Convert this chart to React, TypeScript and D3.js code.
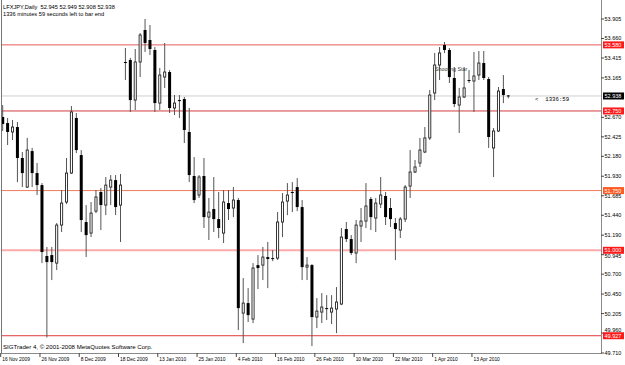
import React from "react";
import * as d3 from "d3";

const W = 625;
const H = 365;

// Daily OHLC bars (LFXJPY), oldest first
const opens = [52.674,52.598,52.486,52.548,52.159,51.794,52.246,51.970,51.819,50.928,50.940,50.839,51.317,51.606,51.970,52.662,52.196,51.355,51.216,51.492,51.732,51.568,51.794,51.882,51.568,53.365,53.390,52.887,53.365,53.767,53.641,53.516,52.849,53.176,53.239,52.787,52.887,52.900,52.486,51.933,51.694,51.933,51.417,51.518,51.392,51.216,51.593,51.531,51.631,50.211,50.337,50.136,50.814,50.814,50.915,50.902,50.902,51.355,51.618,51.732,51.794,51.543,50.789,50.814,50.161,50.224,50.274,50.224,50.262,50.325,51.267,51.141,50.966,51.305,51.367,51.644,51.405,51.581,51.682,51.531,51.342,51.254,51.392,51.807,51.983,52.096,52.234,52.411,52.975,53.327,53.579,53.516,53.164,52.824,52.925,53.139,53.126,53.201,53.352,53.151,52.285,52.498,53.025,52.945];
const highs = [52.824,52.662,52.636,52.611,52.234,52.411,52.285,52.096,51.844,51.041,51.041,51.342,51.757,52.159,52.812,52.724,52.259,51.568,51.606,51.757,51.782,51.920,51.945,51.945,51.958,53.541,53.416,53.528,53.729,53.905,53.830,53.553,53.290,53.603,53.264,52.950,52.950,52.925,52.787,52.171,51.945,52.159,51.657,51.920,51.732,51.757,51.757,51.794,51.657,50.651,50.525,50.839,50.940,51.041,51.104,51.003,51.480,51.719,51.844,51.857,51.907,51.631,50.915,50.827,50.400,50.462,50.437,50.437,50.538,51.280,51.355,51.191,51.380,51.531,51.844,51.669,51.657,51.920,51.732,51.657,51.405,51.417,51.819,52.259,52.134,52.411,52.548,53.013,53.478,53.553,53.616,53.541,53.302,53.039,53.302,53.264,53.491,53.503,53.503,53.176,52.536,53.051,53.201,52.949];
const lows = [52.498,52.322,52.385,51.857,51.794,51.782,51.794,51.694,50.839,49.905,50.626,50.752,51.229,51.581,51.958,52.221,51.229,50.915,51.166,51.467,51.254,51.442,51.568,51.442,51.104,53.139,52.737,52.762,53.176,53.491,53.453,52.737,52.762,53.039,52.724,52.699,52.662,52.347,51.857,51.593,51.657,51.280,51.129,51.229,51.154,51.091,51.380,51.417,49.998,49.834,50.099,50.086,50.513,50.626,50.525,50.864,50.877,51.166,51.442,51.480,51.492,50.626,50.626,49.797,50.023,50.086,50.124,50.073,49.960,50.312,51.104,50.940,50.839,51.104,51.280,51.254,51.229,51.531,51.317,51.292,50.877,51.154,51.355,51.657,51.970,52.046,52.221,52.385,52.887,53.139,53.478,53.101,52.799,52.473,52.912,53.101,52.737,53.139,53.139,52.285,51.920,52.486,52.849,52.908];
const closes = [52.586,52.486,52.548,52.159,51.970,52.259,51.970,51.819,50.978,50.852,50.852,51.317,51.593,51.970,52.737,52.259,51.380,51.191,51.467,51.669,51.568,51.819,51.882,51.543,51.819,53.352,52.887,53.365,53.704,53.603,53.528,52.849,53.201,53.239,52.787,52.849,52.874,52.511,51.945,51.631,51.920,51.417,51.480,51.392,51.280,51.606,51.518,51.631,50.274,50.337,50.186,50.777,50.777,50.915,50.890,50.900,51.355,51.606,51.694,51.730,51.543,50.789,50.814,50.161,50.236,50.287,50.272,50.274,50.350,51.166,51.141,50.966,51.317,51.367,51.556,51.417,51.593,51.694,51.417,51.392,51.267,51.392,51.794,51.983,52.046,52.259,52.411,52.950,53.327,53.478,53.516,53.176,52.837,52.925,53.039,53.126,53.189,53.352,53.164,52.423,52.498,53.000,52.950,52.938];

// visible price-axis tick labels
const priceTicks = [53.905,53.660,53.415,53.165,52.670,52.425,52.180,51.930,51.685,51.440,51.190,50.945,50.700,50.450,50.205,49.960,49.710];
const dateLabels = ["16 Nov 2009","26 Nov 2009","8 Dec 2009","18 Dec 2009","13 Jan 2010","25 Jan 2010","4 Feb 2010","16 Feb 2010","26 Feb 2010","10 Mar 2010","22 Mar 2010","1 Apr 2010","13 Apr 2010"];
const dateLabelStep = 8; // bars between date labels

const levelPrices = [53.580, 52.750, 51.750, 51.000, 49.927];
const bidPrice = 52.938;

const headerLine1 = "LFXJPY,Daily  52.945 52.949 52.908 52.938";
const headerLine2 = "1336 minutes 59 seconds left to bar end";
const patternLabel = "Shooting Star";
const patternBar = 89;
const timerText = "<  1336:59";
const copyright = "SIGTrader 4, \u00a9 2001-2008 MetaQuotes Software Corp.";

// styles per level (kept separate from data)
const levelLineColors = ["#e85a5a", "#d23c3c", "#f07a5a", "#ffaaaa", "#e23a3a"];
const levelLineWidths = [1, 1, 1, 2, 1];
const levelLabelColors = ["#ff1a1a", "#ff1a1a", "#ff5a22", "#ff1a1a", "#ff1a1a"];

const FONT = "'Liberation Sans', Arial, sans-serif";

export default function App() {
  const plotRight = 601;
  const plotBottom = 353;
  const n = opens.length;
  const x = d3.scaleLinear().domain([0, n - 1]).range([2.7, 508.3]);
  const y = d3.scaleLinear().domain([49.71, 53.905]).range([plotBottom, 19]);
  const fmt = d3.format(".3f");
  const bodyW = 3;
  const labelYs = [...levelPrices, bidPrice].map((p) => y(p));
  const sep = 5.9;
  const tickTextY = (p: number) => {
    const ty = y(p);
    for (const ly of labelYs) {
      if (Math.abs(ty - ly) < sep) return ty < ly ? ly - sep : ly + sep;
    }
    return ty;
  };

  return (
    <svg width={W} height={H} style={{ position: "absolute", left: 0, top: 0, background: "#fff" }}>
      <rect x={0} y={0} width={W} height={H} fill="#fff" />
      <defs>
        <clipPath id="plot">
          <rect x={1} y={0} width={plotRight - 1} height={plotBottom} />
        </clipPath>
      </defs>

      {/* horizontal levels */}
      <line x1={1} x2={plotRight} y1={y(bidPrice)} y2={y(bidPrice)} stroke="#cfcfcf" strokeWidth={1} />
      {levelPrices.map((p, i) => (
        <line key={"lv" + i} x1={1} x2={plotRight} y1={y(p)} y2={y(p)} stroke={levelLineColors[i]} strokeWidth={levelLineWidths[i]} />
      ))}

      {/* candles */}
      <g clipPath="url(#plot)">
        {opens.map((o, i) => {
          const c = closes[i];
          const cx = x(i);
          const bull = c > o;
          const top = y(Math.max(o, c));
          const bot = y(Math.min(o, c));
          const h = Math.max(bot - top, 1);
          return (
            <g key={"b" + i}>
              <line x1={cx} x2={cx} y1={y(highs[i])} y2={y(lows[i])} stroke="#555" strokeWidth={1} />
              {bull ? (
                <rect x={cx - bodyW / 2 + 0.45} y={top} width={bodyW - 0.9} height={h} fill="#fff" stroke="#222" strokeWidth={0.9} />
              ) : (
                <rect x={cx - bodyW / 2} y={top} width={bodyW} height={h} fill="#000" />
              )}
            </g>
          );
        })}
      </g>

      {/* frame */}
      <line x1={1.5} x2={1.5} y1={0} y2={plotBottom} stroke="#777" strokeWidth={1} />
      <line x1={plotRight + 0.5} x2={plotRight + 0.5} y1={0} y2={plotBottom} stroke="#8a8a8a" strokeWidth={1} />
      <line x1={1} x2={plotRight + 1} y1={plotBottom + 0.5} y2={plotBottom + 0.5} stroke="#8a8a8a" strokeWidth={1} />

      {/* right axis */}
      {priceTicks.map((p) => (
        <g key={"pt" + p}>
          <line x1={plotRight} x2={plotRight + 3} y1={y(p)} y2={y(p)} stroke="#444" strokeWidth={1} />
          <text x={plotRight + 3.5} y={tickTextY(p)} dy="0.35em" fontSize={5.5} fontFamily={FONT} fill="#000">{fmt(p)}</text>
        </g>
      ))}

      {/* level labels */}
      {levelPrices.map((p, i) => (
        <g key={"ll" + i}>
          <rect x={plotRight + 2} y={y(p) - 3.5} width={21} height={7} fill={levelLabelColors[i]} />
          <text x={plotRight + 3.5} y={y(p)} dy="0.35em" fontSize={5.5} fontFamily={FONT} fill="#fff">{fmt(p)}</text>
        </g>
      ))}
      <g>
        <rect x={plotRight + 2} y={y(bidPrice) - 3.5} width={21} height={7} fill="#000" />
        <text x={plotRight + 3.5} y={y(bidPrice)} dy="0.35em" fontSize={5.5} fontFamily={FONT} fill="#fff">{fmt(bidPrice)}</text>
      </g>

      {/* bottom axis */}
      {dateLabels.map((lab, k) => {
        const xi = x(k * dateLabelStep);
        return (
          <g key={"dl" + k}>
            <line x1={xi - 2} x2={xi - 2} y1={plotBottom} y2={plotBottom + 4} stroke="#444" strokeWidth={1} />
            <text x={xi - 0.5} y={360.5} fontSize={4.9} fontFamily={FONT} fill="#000">{lab}</text>
          </g>
        );
      })}

      {/* header */}
      <text x={3} y={8.7} fontSize={5.7} fontFamily={FONT} fill="#000" style={{ whiteSpace: "pre" }}>{headerLine1}</text>
      <text x={3} y={15.5} fontSize={5.7} fontFamily={FONT} fill="#000">{headerLine2}</text>

      {/* pattern label */}
      <text x={x(patternBar) - 4.5} y={71} fontSize={5.3} fontFamily={FONT} fill="#333">{patternLabel}</text>

      {/* bar timer */}
      <text x={535} y={y(bidPrice) + 3} dy="0.35em" fontSize={5.7} fontFamily="'Liberation Mono', monospace" fill="#000" style={{ whiteSpace: "pre" }}>{timerText}</text>

      {/* copyright */}
      <text x={3} y={349} fontSize={6.1} fontFamily={FONT} fill="#000">{copyright}</text>
    </svg>
  );
}
